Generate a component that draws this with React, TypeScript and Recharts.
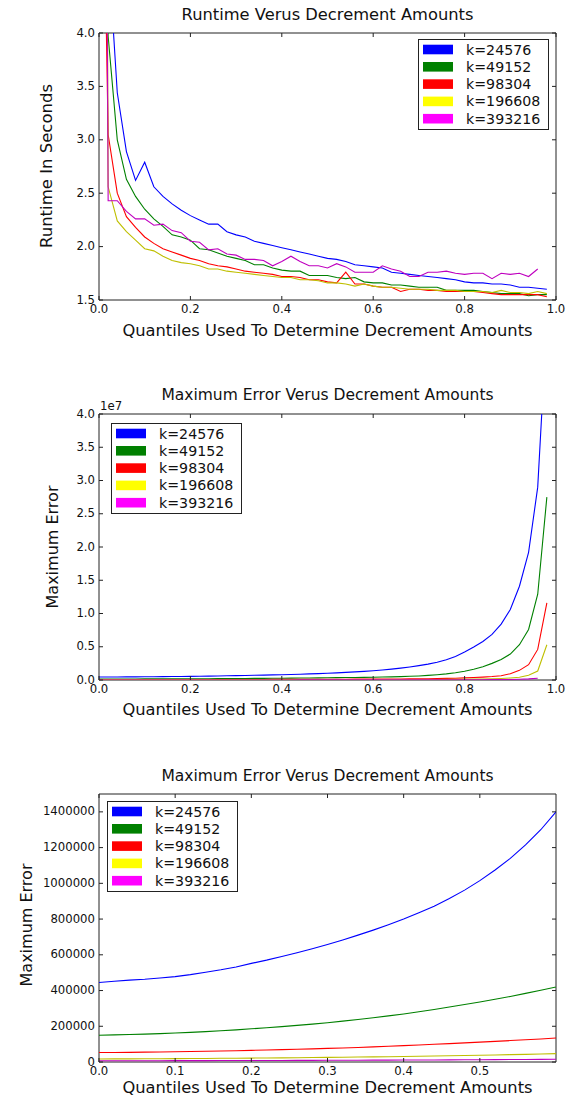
import React from 'react';
import { LineChart, Line, XAxis, YAxis, Legend, ReferenceArea } from 'recharts';

// quantile positions (x)
const quantiles = [
  0, 0.02, 0.04, 0.06, 0.08, 0.1, 0.12, 0.14, 0.16, 0.18,
  0.2, 0.22, 0.24, 0.26, 0.28, 0.3, 0.32, 0.34, 0.36, 0.38,
  0.4, 0.42, 0.44, 0.46, 0.48, 0.5, 0.52, 0.54, 0.56, 0.58,
  0.6, 0.62, 0.64, 0.66, 0.68, 0.7, 0.72, 0.74, 0.76, 0.78,
  0.8, 0.82, 0.84, 0.86, 0.88, 0.9, 0.92, 0.94, 0.96, 0.98,
];

const seriesKeys = ['k24576', 'k49152', 'k98304', 'k196608', 'k393216'];
const seriesNames = ['k=24576', 'k=49152', 'k=98304', 'k=196608', 'k=393216'];
const lineColors = ['#0000ff', '#008000', '#ff0000', '#bfbf00', '#bf00bf'];
const patchColors = ['#0000ff', '#008000', '#ff0000', '#ffff00', '#ff00ff'];

// runtime in seconds
const runtime24576 = [15, 4.8, 3.44, 2.89, 2.62, 2.79, 2.56, 2.47, 2.4, 2.34, 2.29, 2.25, 2.21, 2.21, 2.14, 2.11, 2.09, 2.05, 2.03, 2.01, 1.99, 1.97, 1.95, 1.93, 1.91, 1.89, 1.88, 1.86, 1.83, 1.82, 1.81, 1.8, 1.76, 1.75, 1.74, 1.73, 1.72, 1.71, 1.7, 1.69, 1.67, 1.66, 1.66, 1.65, 1.65, 1.64, 1.62, 1.62, 1.61, 1.6];
const runtime49152 = [15, 3.97, 3.0, 2.63, 2.47, 2.35, 2.26, 2.19, 2.11, 2.09, 2.06, 1.98, 1.97, 1.94, 1.91, 1.89, 1.87, 1.83, 1.83, 1.8, 1.78, 1.77, 1.77, 1.73, 1.73, 1.73, 1.71, 1.7, 1.71, 1.67, 1.66, 1.66, 1.64, 1.64, 1.63, 1.62, 1.62, 1.62, 1.59, 1.59, 1.59, 1.59, 1.58, 1.57, 1.56, 1.56, 1.56, 1.54, 1.55, 1.55];
const runtime98304 = [8, 3.05, 2.5, 2.28, 2.18, 2.09, 2.03, 1.98, 1.95, 1.92, 1.89, 1.87, 1.84, 1.82, 1.81, 1.79, 1.77, 1.76, 1.75, 1.74, 1.72, 1.72, 1.71, 1.69, 1.69, 1.67, 1.66, 1.76, 1.65, 1.65, 1.63, 1.62, 1.62, 1.58, 1.6, 1.6, 1.59, 1.59, 1.58, 1.58, 1.58, 1.58, 1.57, 1.56, 1.55, 1.55, 1.55, 1.55, 1.55, 1.53];
const runtime196608 = [25, 2.56, 2.24, 2.14, 2.06, 1.98, 1.96, 1.91, 1.87, 1.85, 1.84, 1.82, 1.79, 1.79, 1.77, 1.76, 1.75, 1.74, 1.73, 1.72, 1.71, 1.71, 1.69, 1.69, 1.68, 1.66, 1.66, 1.65, 1.63, 1.65, 1.63, 1.62, 1.62, 1.61, 1.6, 1.6, 1.6, 1.59, 1.59, 1.59, 1.58, 1.58, 1.58, 1.57, 1.59, 1.57, 1.57, 1.56, 1.58, 1.56];
const runtime393216 = [20, 2.43, 2.43, 2.33, 2.26, 2.26, 2.2, 2.21, 2.15, 2.13, 2.05, 2.04, 1.97, 1.98, 1.93, 1.92, 1.88, 1.88, 1.87, 1.82, 1.86, 1.91, 1.86, 1.82, 1.82, 1.8, 1.84, 1.81, 1.76, 1.76, 1.76, 1.82, 1.79, 1.77, 1.72, 1.72, 1.76, 1.76, 1.77, 1.75, 1.74, 1.75, 1.75, 1.7, 1.75, 1.74, 1.75, 1.72, 1.79, null];

// maximum error
const maxErr24576 = [445000, 452000, 458000, 463000, 470000, 478000, 489000, 502000, 516000, 532000, 552000, 570000, 590000, 611000, 634000, 658000, 683000, 710000, 738000, 768000, 800000, 835000, 872000, 915000, 962000, 1015000, 1075000, 1140000, 1215000, 1300000, 1400000, 1510000, 1640000, 1790000, 1960000, 2160000, 2390000, 2660000, 3050000, 3550000, 4200000, 4950000, 5800000, 6850000, 8400000, 10600000, 14100000, 19200000, 29000000, 54000000];
const maxErr49152 = [150000, 152000, 154000, 156000, 159000, 162000, 166000, 170000, 175000, 180000, 186000, 192000, 198000, 205000, 212000, 220000, 229000, 238000, 248000, 258000, 269000, 281000, 294000, 308000, 322000, 336000, 351000, 367000, 384000, 402000, 420000, 445000, 475000, 510000, 555000, 610000, 690000, 790000, 920000, 1090000, 1320000, 1620000, 2000000, 2500000, 3100000, 3900000, 5300000, 7600000, 12900000, 27500000];
const maxErr98304 = [53000, 53500, 54000, 55000, 56000, 57000, 58500, 60000, 61500, 63000, 65000, 67000, 69000, 71000, 73500, 76000, 78500, 81500, 84500, 88000, 91500, 95000, 99000, 103000, 107000, 111000, 115500, 120000, 124500, 129000, 134000, 140000, 148000, 157000, 168000, 181000, 197000, 217000, 242000, 273000, 313000, 365000, 430000, 515000, 650000, 950000, 1450000, 2300000, 4600000, 11600000];
const maxErr196608 = [17000, 17300, 17600, 18000, 18400, 18900, 19400, 20000, 20600, 21200, 21900, 22600, 23300, 24100, 24900, 25800, 26700, 27700, 28700, 29800, 31000, 32200, 33500, 34900, 36300, 37800, 39400, 41100, 42900, 44800, 46800, 49000, 52000, 56000, 60000, 65000, 71000, 78000, 87000, 98000, 111000, 128000, 150000, 180000, 225000, 295000, 420000, 700000, 1350000, 5300000];
const maxErr393216 = [7000, 7100, 7200, 7300, 7400, 7500, 7700, 7800, 8000, 8200, 8400, 8600, 8800, 9000, 9200, 9500, 9700, 10000, 10300, 10600, 10900, 11200, 11600, 12000, 12400, 12800, 13300, 13800, 14300, 14900, 15500, 16200, 17000, 18000, 19000, 20500, 22000, 24000, 26500, 29500, 33000, 38000, 45000, 54000, 67000, 86000, 115000, 165000, 260000, null];

// ticks
const xTicksFull = [0, 0.2, 0.4, 0.6, 0.8, 1.0];
const xTicksZoom = [0, 0.1, 0.2, 0.3, 0.4, 0.5];
const runtimeTicks = [1.5, 2.0, 2.5, 3.0, 3.5, 4.0];
const errTicks = [0, 5000000, 10000000, 15000000, 20000000, 25000000, 30000000, 35000000, 40000000];
const errZoomTicks = [0, 200000, 400000, 600000, 800000, 1000000, 1200000, 1400000];

const runtimeRows = quantiles.map((q, i) => ({
  q,
  k24576: runtime24576[i],
  k49152: runtime49152[i],
  k98304: runtime98304[i],
  k196608: runtime196608[i],
  k393216: runtime393216[i],
}));

const errRows = quantiles.map((q, i) => ({
  q,
  k24576: maxErr24576[i],
  k49152: maxErr49152[i],
  k98304: maxErr98304[i],
  k196608: maxErr196608[i],
  k393216: maxErr393216[i],
}));

const FONT = '"DejaVu Sans", Verdana, sans-serif';
const TICK_SIZE = 11.7;

function LegendBox() {
  return (
    <svg width={132} height={92} style={{ display: 'block' }}>
      <rect x={0.5} y={0.5} width={130} height={90} fill="#fff" stroke="#222" strokeWidth={1} />
      {seriesNames.map((name, i) => {
        const cy = 10.5 + i * 17.3;
        return (
          <g key={name}>
            <rect x={5} y={cy - 4.8} width={30} height={9.6} fill={patchColors[i]} />
            <text x={48} y={cy + 5} fontSize={14.2} fontFamily={FONT} fill="#111">{name}</text>
          </g>
        );
      })}
    </svg>
  );
}

function Panel({ top, height, marginTop, xAxisHeight, data, xDomain, xTicks, yDomain, yTicks, yFmt, legendLeft, legendTop }: any) {
  const width = 570;
  const g = { left: 99, right: 556, top: marginTop, bottom: height - xAxisHeight };

  const xTick = (p: any) => (
    <g>
      <line x1={p.x} x2={p.x} y1={g.bottom} y2={g.bottom - 4} stroke="#222" />
      <line x1={p.x} x2={p.x} y1={g.top} y2={g.top + 4} stroke="#222" />
      <text x={p.x} y={p.y} dy="0.71em" textAnchor="middle" fontSize={TICK_SIZE} fontFamily={FONT} fill="#111">
        {Number(p.payload.value).toFixed(1)}
      </text>
    </g>
  );

  const yTick = (p: any) => (
    <g>
      <line x1={g.left} x2={g.left + 4} y1={p.y} y2={p.y} stroke="#222" />
      <line x1={g.right - 4} x2={g.right} y1={p.y} y2={p.y} stroke="#222" />
      <text x={p.x} y={p.y} dy="0.3em" textAnchor="end" fontSize={TICK_SIZE} fontFamily={FONT} fill="#111">
        {yFmt(p.payload.value)}
      </text>
    </g>
  );

  return (
    <div style={{ position: 'absolute', left: 0, top, width, height }}>
      <LineChart width={width} height={height} data={data} margin={{ top: marginTop, right: width - g.right, bottom: 0, left: 0 }}>
        <XAxis
          dataKey="q"
          type="number"
          domain={xDomain}
          ticks={xTicks}
          interval={0}
          allowDataOverflow
          height={xAxisHeight}
          axisLine={false}
          tickLine={false}
          tickSize={0}
          tickMargin={5}
          tick={xTick}
        />
        <YAxis
          type="number"
          domain={yDomain}
          ticks={yTicks}
          interval={0}
          allowDataOverflow
          width={99}
          axisLine={false}
          tickLine={false}
          tickSize={0}
          tickMargin={4}
          tick={yTick}
        />
        <ReferenceArea x1={xDomain[0]} x2={xDomain[1]} y1={yDomain[0]} y2={yDomain[1]} fill="none" fillOpacity={0} stroke="#222" strokeWidth={1} ifOverflow="visible" />
        {seriesKeys.map((k, i) => (
          <Line
            key={k}
            type="linear"
            dataKey={k}
            name={seriesNames[i]}
            stroke={lineColors[i]}
            strokeWidth={1.1}
            dot={false}
            activeDot={false}
            isAnimationActive={false}
          />
        ))}
        <Legend
          layout="vertical"
          align="center"
          verticalAlign="middle"
          wrapperStyle={{ position: 'absolute', left: legendLeft, top: legendTop, width: 'auto', height: 'auto' }}
          content={() => <LegendBox />}
        />
      </LineChart>
    </div>
  );
}

export default function App() {
  const titleStyle = { fontFamily: FONT, fill: '#111' };
  return (
    <div style={{ position: 'absolute', left: 0, top: 0, width: 570, height: 1099, background: '#fff', overflow: 'hidden' }}>
      <Panel
        top={0}
        height={345}
        marginTop={33}
        xAxisHeight={45}
        data={runtimeRows}
        xDomain={[0, 1]}
        xTicks={xTicksFull}
        yDomain={[1.5, 4]}
        yTicks={runtimeTicks}
        yFmt={(v: number) => v.toFixed(1)}
        legendLeft={418}
        legendTop={39}
      />
      <Panel
        top={380}
        height={345}
        marginTop={34}
        xAxisHeight={45}
        data={errRows}
        xDomain={[0, 1]}
        xTicks={xTicksFull}
        yDomain={[0, 40000000]}
        yTicks={errTicks}
        yFmt={(v: number) => (v / 10000000).toFixed(1)}
        legendLeft={111}
        legendTop={43}
      />
      <Panel
        top={760}
        height={339}
        marginTop={34}
        xAxisHeight={37}
        data={errRows}
        xDomain={[0, 0.6]}
        xTicks={xTicksZoom}
        yDomain={[0, 1500000]}
        yTicks={errZoomTicks}
        yFmt={(v: number) => String(v)}
        legendLeft={107}
        legendTop={41}
      />
      <svg width={570} height={1099} style={{ position: 'absolute', left: 0, top: 0, pointerEvents: 'none' }}>
        <g {...titleStyle}>
          <text x={327.5} y={20} fontSize={16.3} textAnchor="middle">Runtime Verus Decrement Amounts</text>
          <text x={327.5} y={400} fontSize={15.5} textAnchor="middle">Maximum Error Verus Decrement Amounts</text>
          <text x={327.5} y={781} fontSize={15.5} textAnchor="middle">Maximum Error Verus Decrement Amounts</text>

          <text x={327.5} y={336} fontSize={16.3} textAnchor="middle">Quantiles Used To Determine Decrement Amounts</text>
          <text x={327.5} y={715} fontSize={16.3} textAnchor="middle">Quantiles Used To Determine Decrement Amounts</text>
          <text x={327.5} y={1093} fontSize={16.3} textAnchor="middle">Quantiles Used To Determine Decrement Amounts</text>

          <text x={51.5} y={166} fontSize={16.5} textAnchor="middle" transform="rotate(-90 51.5 166)">Runtime In Seconds</text>
          <text x={58} y={547} fontSize={16} textAnchor="middle" transform="rotate(-90 58 547)">Maximum Error</text>
          <text x={31.5} y={925} fontSize={16} textAnchor="middle" transform="rotate(-90 31.5 925)">Maximum Error</text>

          <text x={100} y={410} fontSize={TICK_SIZE}>1e7</text>
        </g>
      </svg>
    </div>
  );
}
